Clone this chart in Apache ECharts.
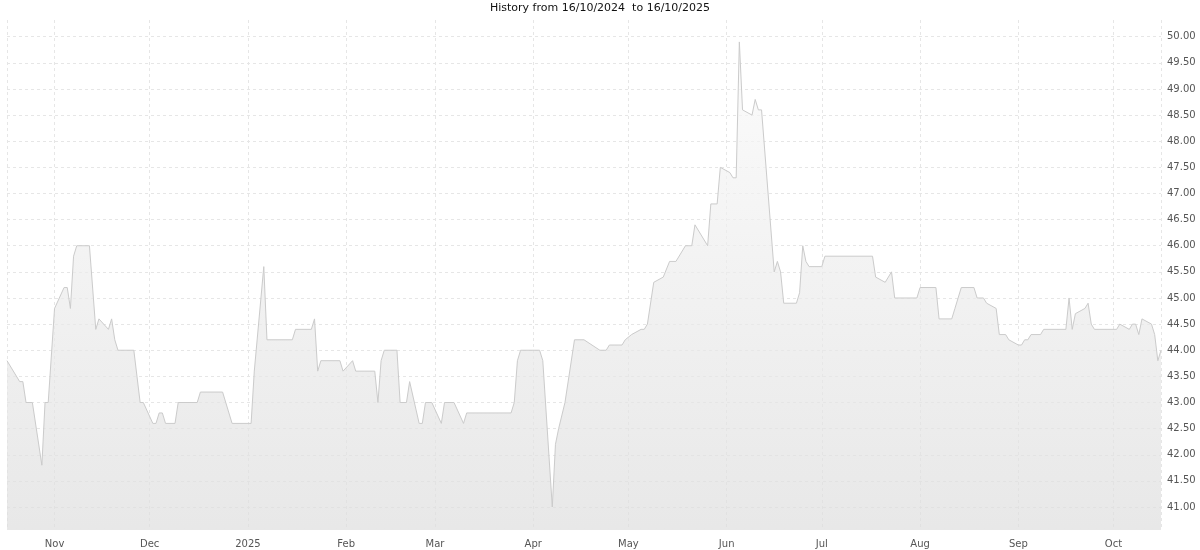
<!DOCTYPE html>
<html>
<head>
<meta charset="utf-8">
<script src="https://cdn.jsdelivr.net/npm/echarts@6/dist/echarts.min.js"></script>
<style>
html,body{margin:0;padding:0;background:#fff;}
#chart{width:1200px;height:550px;}
</style>
</head>
<body>
<div id="chart"></div>
<script>
const titleText = 'History from 16/10/2024  to 16/10/2025';
const monthNames = ['Jan','Feb','Mar','Apr','May','Jun','Jul','Aug','Sep','Oct','Nov','Dec'];
const dates = [
'2024-10-17','2024-10-21','2024-10-22','2024-10-23','2024-10-25','2024-10-28','2024-10-29','2024-10-30',
'2024-11-01','2024-11-04','2024-11-05','2024-11-06','2024-11-07','2024-11-08','2024-11-12','2024-11-14',
'2024-11-15','2024-11-18','2024-11-19','2024-11-20','2024-11-21','2024-11-26','2024-11-28','2024-11-29',
'2024-12-02','2024-12-03','2024-12-04','2024-12-05','2024-12-06','2024-12-09','2024-12-10','2024-12-16',
'2024-12-17','2024-12-24','2024-12-27',
'2025-01-02','2025-01-03','2025-01-06','2025-01-07','2025-01-15','2025-01-16','2025-01-21','2025-01-22',
'2025-01-23','2025-01-24','2025-01-30','2025-01-31',
'2025-02-03','2025-02-04','2025-02-10','2025-02-11','2025-02-12','2025-02-13','2025-02-17','2025-02-18',
'2025-02-20','2025-02-21','2025-02-24','2025-02-25','2025-02-26','2025-02-28',
'2025-03-03','2025-03-04','2025-03-07','2025-03-10','2025-03-11','2025-03-25','2025-03-26','2025-03-27','2025-03-28',
'2025-04-03','2025-04-04','2025-04-07','2025-04-08','2025-04-09','2025-04-11','2025-04-14','2025-04-17',
'2025-04-22','2025-04-24','2025-04-25','2025-04-29','2025-04-30',
'2025-05-02','2025-05-05','2025-05-06','2025-05-07','2025-05-09','2025-05-12','2025-05-14','2025-05-16',
'2025-05-19','2025-05-21','2025-05-22','2025-05-26','2025-05-27','2025-05-29','2025-05-30',
'2025-06-02','2025-06-03','2025-06-04','2025-06-05','2025-06-06','2025-06-09','2025-06-10','2025-06-11',
'2025-06-12','2025-06-16','2025-06-17','2025-06-18','2025-06-19','2025-06-23','2025-06-24','2025-06-25',
'2025-06-26','2025-06-27',
'2025-07-01','2025-07-02','2025-07-17','2025-07-18','2025-07-21','2025-07-23','2025-07-24','2025-07-31',
'2025-08-01','2025-08-06','2025-08-07','2025-08-11','2025-08-12','2025-08-14','2025-08-18','2025-08-19',
'2025-08-21','2025-08-22','2025-08-25','2025-08-26','2025-08-28','2025-08-29',
'2025-09-01','2025-09-02','2025-09-03','2025-09-04','2025-09-05','2025-09-08','2025-09-09','2025-09-16',
'2025-09-17','2025-09-18','2025-09-19','2025-09-22','2025-09-23','2025-09-24','2025-09-25',
'2025-10-02','2025-10-03','2025-10-06','2025-10-07','2025-10-08','2025-10-09','2025-10-10','2025-10-13',
'2025-10-14','2025-10-15','2025-10-16'
];
const prices = [
43.8,43.4,43.4,43.0,43.0,41.8,43.0,43.0,
44.8,45.2,45.2,44.8,45.8,46.0,46.0,44.4,
44.6,44.4,44.6,44.2,44.0,44.0,43.0,43.0,
42.6,42.6,42.8,42.8,42.6,42.6,43.0,43.0,
43.2,43.2,42.6,
42.6,43.6,45.6,44.2,44.2,44.4,44.4,44.6,
43.6,43.8,43.8,43.6,
43.8,43.6,43.6,43.0,43.8,44.0,44.0,43.0,
43.0,43.4,42.6,42.6,43.0,43.0,
42.6,43.0,43.0,42.6,42.8,42.8,43.0,43.8,44.0,
44.0,43.8,41.0,42.2,42.5,43.0,44.2,44.2,
44.0,44.0,44.1,44.1,44.2,
44.3,44.4,44.4,44.5,45.3,45.4,45.7,45.7,
46.0,46.0,46.4,46.0,46.8,46.8,47.5,
47.4,47.3,47.3,49.9,48.6,48.5,48.8,48.6,
48.6,45.5,45.7,45.5,44.9,44.9,45.1,46.0,
45.7,45.6,
45.6,45.8,45.8,45.4,45.3,45.5,45.0,45.0,
45.2,45.2,44.6,44.6,44.8,45.2,45.2,45.0,
45.0,44.9,44.8,44.3,44.3,44.2,
44.1,44.1,44.2,44.2,44.3,44.3,44.4,44.4,
45.0,44.4,44.7,44.8,44.9,44.5,44.4,
44.4,44.5,44.4,44.5,44.5,44.3,44.6,44.5,
44.3,43.8,44.0
];

const chart = echarts.init(document.getElementById('chart'), null, {renderer: 'canvas'});
const font = 'DejaVu Sans';
chart.setOption({
  animation: false,
  backgroundColor: '#ffffff',
  title: {
    text: titleText,
    left: 'center',
    top: 3,
    padding: 0,
    textStyle: {fontFamily: font, fontSize: 11, fontWeight: 'normal', color: '#111'}
  },
  grid: {left: 7, right: 39, top: 20, bottom: 20, containLabel: false},
  xAxis: {
    type: 'time',
    min: '2024-10-17',
    max: '2025-10-16',
    splitNumber: 12,
    axisLine: {show: false},
    axisTick: {show: false},
    axisLabel: {
      fontFamily: font, fontSize: 10, color: '#555', margin: 9,
      formatter: function (v) {
        const d = new Date(v);
        return d.getMonth() === 0 ? String(d.getFullYear()) : monthNames[d.getMonth()];
      }
    },
    splitLine: {show: true, lineStyle: {color: '#e6e6e6', type: [3, 3], width: 1}}
  },
  yAxis: {
    type: 'value',
    position: 'right',
    min: 40.56,
    max: 50.32,
    splitNumber: 20,
    axisLine: {show: false},
    axisTick: {show: false},
    axisLabel: {
      fontFamily: font, fontSize: 10, color: '#555', margin: 6,
      showMinLabel: false, showMaxLabel: false,
      formatter: function (v) { return v.toFixed(2); }
    },
    splitLine: {show: true, showMinLine: false, showMaxLine: false,
      lineStyle: {color: '#e6e6e6', type: [3, 3], width: 1}}
  },
  series: [{
    type: 'line',
    data: dates.map((d, i) => [d, prices[i]]),
    showSymbol: false,
    smooth: false,
    lineStyle: {color: '#cbcbcb', width: 1},
    areaStyle: {
      color: new echarts.graphic.LinearGradient(0, 0, 0, 1, [
        {offset: 0, color: '#fafafa'},
        {offset: 1, color: '#dedede'}
      ])
    }
  }]
});
</script>
</body>
</html>
